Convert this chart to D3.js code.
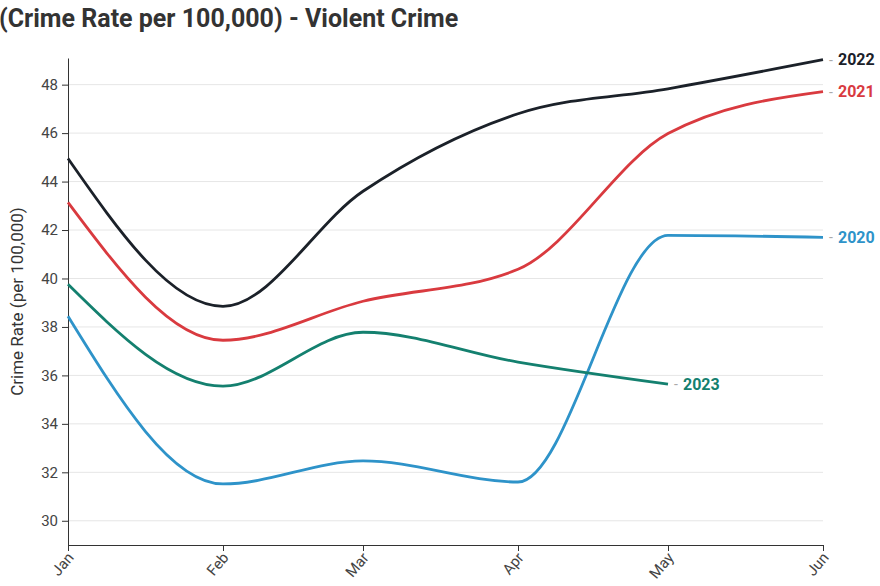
<!DOCTYPE html>
<html><head><meta charset="utf-8">
<script src="https://cdn.jsdelivr.net/npm/d3@7"></script>
<style>
body{margin:0;background:#fff;font-family:Roboto,"Noto Sans",sans-serif;}
</style></head>
<body><svg id="c" width="880" height="586"></svg>
<script>
const months = ["Jan","Feb","Mar","Apr","May","Jun"];
const series2020 = [38.44, 31.52, 32.47, 31.6, 41.78, 41.7];
const series2021 = [43.14, 37.45, 39.06, 40.38, 45.98, 47.71];
const series2022 = [44.95, 38.85, 43.6, 46.8, 47.83, 49.03];
const series2023 = [39.76, 35.56, 37.78, 36.55, 35.64];
const yTicks = [30, 32, 34, 36, 38, 40, 42, 44, 46, 48];
const seriesNames = ["2020","2021","2022","2023"];
const seriesColors = ["#2e93c9","#d93a3f","#1b2129","#14806f"];

const svg = d3.select("#c");
const L = 68, R = 823, T = 58, B = 545;
const dates = months.map((m,i)=> new Date(2021, i, 1));
const x = d3.scaleTime().domain([dates[0], dates[5]]).range([L, R]);
const y = d3.scaleLinear().domain([29, 49.1]).range([B, T]);

svg.append("text").attr("x", -1).attr("y", 27)
  .attr("font-size", 25).attr("font-weight", 700).attr("fill", "#333")
  .text("(Crime Rate per 100,000) - Violent Crime");

// grid
svg.append("g").selectAll("line").data(yTicks).join("line")
  .attr("x1", L).attr("x2", R).attr("y1", d=>y(d)).attr("y2", d=>y(d))
  .attr("stroke", "#e6e6e6").attr("stroke-width", 1);

// y axis
const ya = svg.append("g").attr("transform", `translate(${L},0)`)
  .call(d3.axisLeft(y).tickValues(yTicks).tickSize(6).tickPadding(4).tickSizeOuter(0));
ya.select(".domain").attr("stroke", "#333");
ya.selectAll(".tick line").attr("stroke", "#333");
ya.selectAll("text").attr("font-size", 15).attr("fill", "#444").attr("font-family", "Roboto");

// x axis
const xa = svg.append("g").attr("transform", `translate(0,${B})`)
  .call(d3.axisBottom(x).tickValues(dates).tickFormat((d,i)=>months[i]).tickSize(6).tickSizeOuter(0));
xa.select(".domain").attr("stroke", "#333");
xa.selectAll(".tick line").attr("stroke", "#333");
xa.selectAll("text").attr("font-size", 15).attr("fill", "#444").attr("font-family", "Roboto")
  .attr("text-anchor", "end").attr("x", 0).attr("y", 0).attr("dy", 0)
  .attr("transform", "translate(6,13) rotate(-50)");

svg.append("text").attr("transform", `translate(23,${(T+B)/2}) rotate(-90)`)
  .attr("text-anchor", "middle").attr("font-size", 17).attr("fill", "#333")
  .text("Crime Rate (per 100,000)");

const all = [series2020, series2021, series2022, series2023];
const line = d3.line().x((d,i)=>x(dates[i])).y(d=>y(d)).curve(d3.curveMonotoneX);
all.forEach((s, k) => {
  svg.append("path").datum(s).attr("d", line).attr("fill", "none")
    .attr("stroke", seriesColors[k]).attr("stroke-width", 2.8);
  const lx = x(dates[s.length-1]), ly = y(s[s.length-1]);
  const g = svg.append("g");
  g.append("text").attr("x", lx + 6).attr("y", ly).attr("dy", "0.35em")
    .attr("font-size", 14).attr("fill", "#aaa").text("-");
  g.append("text").attr("x", lx + 15).attr("y", ly).attr("dy", "0.36em")
    .attr("font-size", 16).attr("font-weight", 700).attr("fill", seriesColors[k]).text(seriesNames[k]);
});
</script></body></html>
